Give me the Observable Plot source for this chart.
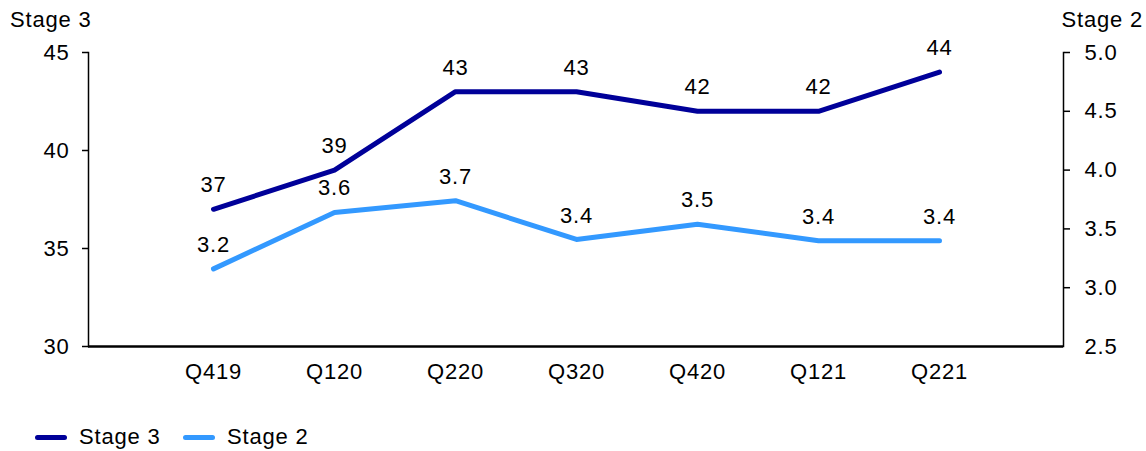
<!DOCTYPE html>
<html>
<head>
<meta charset="utf-8">
<script src="https://cdn.jsdelivr.net/npm/d3@7"></script>
<script src="https://cdn.jsdelivr.net/npm/@observablehq/plot@0.6"></script>
<style>
  body { margin: 0; background: #fff; font-family: "Liberation Sans", Arial, sans-serif; }
  #wrap { width: 1146px; height: 451px; position: relative; }
  #head { height: 30px; position: relative; font-size: 22px; color: #000; letter-spacing: 0.8px; }
  #head .l { position: absolute; left: 10px; top: 9px; line-height: 22px; }
  #head .r { position: absolute; right: 3px; top: 9px; line-height: 22px; }
  #legend { height: 51px; position: relative; font-size: 22px; letter-spacing: 0.8px; }
  .item { position: absolute; display: flex; align-items: center; line-height: 22px; }
  .sw { width: 32px; height: 5px; border-radius: 3px; margin-right: 12px; }
  svg text { letter-spacing: 0.8px; }
</style>
</head>
<body>
<div id="wrap">
  <div id="head"><span class="l">Stage 3</span><span class="r">Stage 2</span></div>
  <div id="chart"></div>
  <div id="legend"></div>
</div>
<script>
const categories = ["Q419", "Q120", "Q220", "Q320", "Q420", "Q121", "Q221"];
const stage3 = [37, 39, 43, 43, 42, 42, 44];
const stage2 = [3.16, 3.64, 3.74, 3.41, 3.54, 3.40, 3.40];
const stage3Labels = ["37", "39", "43", "43", "42", "42", "44"];
const stage2Labels = ["3.2", "3.6", "3.7", "3.4", "3.5", "3.4", "3.4"];
const leftTicks = [30, 35, 40, 45];
const rightTicks = [2.5, 3.0, 3.5, 4.0, 4.5, 5.0];
const seriesNames = ["Stage 3", "Stage 2"];
const colors = ["#000099", "#3399FF"];

// map right-axis (Stage 2) values onto left scale
const y2 = v => 30 + (v - 2.5) * 6;

const d3rows = categories.map((c, i) => ({cat: c, v: stage3[i], label: stage3Labels[i]}));
const d2rows = categories.map((c, i) => ({cat: c, v: y2(stage2[i]), label: stage2Labels[i]}));

const fs = 22;
const plot = Plot.plot({
  width: 1146,
  height: 370,
  marginLeft: 88,
  marginRight: 83,
  marginTop: 22,
  marginBottom: 54,
  style: {fontFamily: "'Liberation Sans', Arial, sans-serif", fontSize: fs + "px", color: "#000"},
  x: {type: "point", domain: categories, padding: 1, label: null},
  y: {domain: [30, 45], label: null},
  marks: [
    Plot.axisX({tickSize: 0, tickPadding: 17, label: null, fontSize: fs}),
    Plot.axisY(leftTicks, {anchor: "left", tickSize: 6, tickPadding: 13, label: null, fontSize: fs, strokeWidth: 1.5}),
    Plot.axisY(rightTicks.map(y2), {anchor: "right", tickSize: 0, tickPadding: 21, label: null, fontSize: fs,
      tickFormat: d => ((d - 30) / 6 + 2.5).toFixed(1)}),
    Plot.axisY(rightTicks.slice(1).map(y2), {anchor: "right", tickSize: 6, label: null, strokeWidth: 1.5, tickFormat: () => ""}),
    Plot.frame({anchor: "left", strokeWidth: 1.5}),
    Plot.frame({anchor: "right", strokeWidth: 1.5}),
    Plot.ruleY([30], {strokeWidth: 2.5}),
    Plot.line(d3rows, {x: "cat", y: "v", stroke: colors[0], strokeWidth: 5, strokeLinecap: "round", strokeLinejoin: "round"}),
    Plot.line(d2rows, {x: "cat", y: "v", stroke: colors[1], strokeWidth: 5, strokeLinecap: "round", strokeLinejoin: "round"}),
    Plot.text(d3rows, {x: "cat", y: "v", text: "label", dy: -24, fontSize: fs, fill: "#000"}),
    Plot.text(d2rows, {x: "cat", y: "v", text: "label", dy: -24, fontSize: fs, fill: "#000"})
  ]
});
document.getElementById("chart").appendChild(plot);

const legend = document.getElementById("legend");
const lefts = [35, 183];
seriesNames.forEach((n, i) => {
  const it = document.createElement("div");
  it.className = "item";
  it.style.left = lefts[i] + "px";
  it.style.top = "26px";
  const sw = document.createElement("span");
  sw.className = "sw";
  sw.style.background = colors[i];
  const t = document.createElement("span");
  t.textContent = n;
  it.appendChild(sw); it.appendChild(t);
  legend.appendChild(it);
});
</script>
</body>
</html>
